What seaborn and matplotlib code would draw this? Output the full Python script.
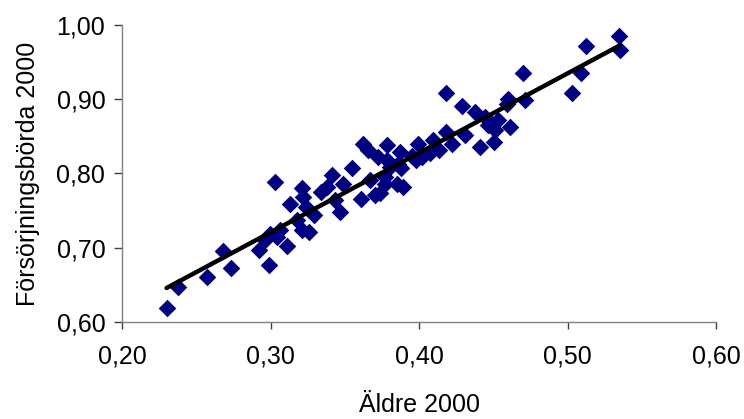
import pandas as pd
import matplotlib
matplotlib.use('Agg')
import matplotlib.pyplot as plt
import seaborn as sns
from matplotlib.ticker import FuncFormatter

# values
aldre = [0.230, 0.238, 0.257, 0.268, 0.273, 0.303, 0.299, 0.292, 0.296, 0.2995,
         0.304, 0.311, 0.306, 0.313, 0.321, 0.322, 0.3175, 0.321, 0.326, 0.329,
         0.324, 0.334, 0.338, 0.341, 0.343, 0.347, 0.349, 0.3545, 0.361, 0.362,
         0.3657, 0.367, 0.370, 0.372, 0.378, 0.377, 0.380, 0.386, 0.385, 0.3735,
         0.378, 0.377, 0.387, 0.389, 0.388, 0.399, 0.398, 0.409, 0.407, 0.418,
         0.418, 0.422, 0.429, 0.431, 0.4375, 0.441, 0.444, 0.446, 0.450, 0.453,
         0.451, 0.461, 0.460, 0.459, 0.470, 0.471, 0.503, 0.509, 0.512, 0.5345,
         0.535, 0.395, 0.402, 0.413]
forsorjning = [0.619, 0.647, 0.661, 0.696, 0.673, 0.789, 0.676, 0.697, 0.710, 0.719,
               0.715, 0.702, 0.724, 0.759, 0.780, 0.768, 0.737, 0.724, 0.721, 0.744,
               0.755, 0.775, 0.782, 0.798, 0.764, 0.748, 0.786, 0.807, 0.766, 0.840,
               0.831, 0.791, 0.771, 0.822, 0.838, 0.786, 0.809, 0.813, 0.786, 0.773,
               0.818, 0.795, 0.829, 0.782, 0.807, 0.840, 0.818, 0.845, 0.827, 0.908,
               0.856, 0.840, 0.891, 0.852, 0.883, 0.836, 0.876, 0.865, 0.843, 0.872,
               0.858, 0.863, 0.901, 0.894, 0.936, 0.899, 0.908, 0.936, 0.972, 0.986,
               0.967, 0.823, 0.822, 0.832]
x_ticks = [0.20, 0.30, 0.40, 0.50, 0.60]
y_ticks = [0.60, 0.70, 0.80, 0.90, 1.00]

df = pd.DataFrame({'Äldre 2000': aldre, 'Försörjningsbörda 2000': forsorjning})

sns.set_style('white')
plt.rcParams['font.family'] = ['Liberation Sans', 'DejaVu Sans']
plt.rcParams['text.color'] = 'black'
plt.rcParams['axes.labelcolor'] = 'black'
plt.rcParams['xtick.labelcolor'] = 'black'
plt.rcParams['ytick.labelcolor'] = 'black'

fig = plt.figure(figsize=(7.44, 4.19), dpi=100)
ax = fig.add_axes([0.164, 0.232, 0.799, 0.708])

sns.regplot(x='Äldre 2000', y='Försörjningsbörda 2000', data=df, ci=None, ax=ax,
            marker='D',
            scatter_kws={'color': '#000080', 's': 80, 'linewidths': 0, 'alpha': 1},
            line_kws={'color': 'black', 'linewidth': 3.2})

ax.set_xlim(0.20, 0.60)
ax.set_ylim(0.60, 1.00)
ax.set_xticks(x_ticks)
ax.set_yticks(y_ticks)
comma = FuncFormatter(lambda v, p: f'{v:.2f}'.replace('.', ','))
ax.xaxis.set_major_formatter(comma)
ax.yaxis.set_major_formatter(comma)

for side in ['top', 'right']:
    ax.spines[side].set_visible(False)
for side in ['left', 'bottom']:
    ax.spines[side].set_color('#808080')
    ax.spines[side].set_linewidth(1)

ax.tick_params(axis='x', direction='out', length=5, width=1, color='#404040',
               labelsize=18, pad=11, bottom=True)
ax.tick_params(axis='y', direction='out', length=6, width=1, color='#404040',
               labelsize=18, pad=6, left=True)
ax.set_xlabel('Äldre 2000', fontsize=18, labelpad=18)
ax.set_ylabel('Försörjningsbörda 2000', fontsize=18, labelpad=12)

fig.savefig('out.png', dpi=100)
